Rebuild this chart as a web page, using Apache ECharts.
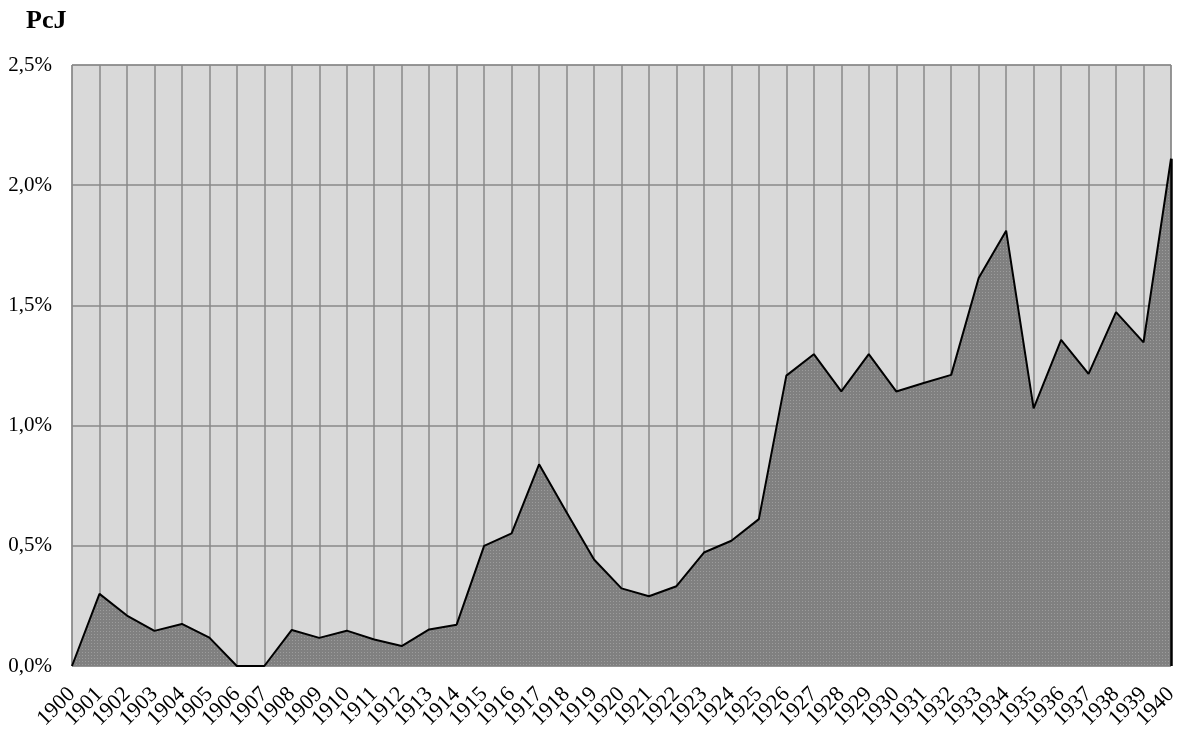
<!DOCTYPE html>
<html>
<head>
<meta charset="utf-8">
<script src="https://cdn.jsdelivr.net/npm/echarts@6/dist/echarts.min.js"></script>
<style>
html,body{margin:0;padding:0;background:#fff;}
#chart{width:1183px;height:729px;}
</style>
</head>
<body>
<div id="chart"></div>
<script>
var years = ['1900','1901','1902','1903','1904','1905','1906','1907','1908','1909','1910',
  '1911','1912','1913','1914','1915','1916','1917','1918','1919','1920',
  '1921','1922','1923','1924','1925','1926','1927','1928','1929','1930',
  '1931','1932','1933','1934','1935','1936','1937','1938','1939','1940'];
var values = [0.00,0.30,0.21,0.146,0.175,0.118,0.00,0.00,0.15,0.117,0.147,
  0.11,0.083,0.152,0.172,0.50,0.552,0.839,0.64,0.443,0.323,
  0.29,0.332,0.472,0.521,0.611,1.208,1.297,1.142,1.297,1.142,
  1.177,1.211,1.614,1.811,1.072,1.357,1.215,1.472,1.346,2.11];
var yTicks = [0, 0.5, 1.0, 1.5, 2.0, 2.5];

var pc = document.createElement('canvas');
pc.width = 3; pc.height = 3;
var g = pc.getContext('2d');
g.fillStyle = '#808080'; g.fillRect(0,0,3,3);
g.fillStyle = '#9c9c9c'; g.fillRect(1,1,1,1);

var chart = echarts.init(document.getElementById('chart'));
var lastIdx = years.length - 1;
chart.setOption({
  animation: false,
  title: {
    text: 'PcJ', left: 21, top: 3,
    textStyle: {fontFamily: 'Liberation Serif', fontWeight: 'bold', fontSize: 26, color: '#000'}
  },
  grid: {
    left: 72, right: 12, top: 65, bottom: 63,
    containLabel: false, outerBoundsMode: 'none',
    show: true, backgroundColor: '#d9d9d9', borderColor: '#888', borderWidth: 1
  },
  xAxis: {
    type: 'category', data: years, boundaryGap: false,
    axisLine: {show: false}, axisTick: {show: false},
    splitLine: {show: true, lineStyle: {color: '#888', width: 1.5}},
    axisLabel: {rotate: 45, margin: 25, interval: 0, fontFamily: 'Liberation Serif', fontSize: 22, color: '#000'}
  },
  yAxis: {
    type: 'value', min: yTicks[0], max: yTicks[yTicks.length-1], interval: 0.5,
    axisLine: {show: false}, axisTick: {show: false},
    splitLine: {show: true, lineStyle: {color: '#888', width: 1.5}},
    axisLabel: {margin: 20, fontFamily: 'Liberation Serif', fontSize: 21, color: '#000',
      formatter: function(v){ return v.toFixed(1).replace('.', ',') + '%'; }}
  },
  series: [{
    type: 'line', data: values, symbol: 'none',
    lineStyle: {color: '#000', width: 2},
    areaStyle: {color: {image: pc, repeat: 'repeat'}, opacity: 1},
    markLine: {
      silent: true, symbol: 'none', label: {show: false},
      lineStyle: {color: '#000', width: 2.5, type: 'solid'},
      data: [[{coord: [years[lastIdx], 0]}, {coord: [years[lastIdx], values[lastIdx]]}]]
    }
  }]
});
</script>
</body>
</html>
